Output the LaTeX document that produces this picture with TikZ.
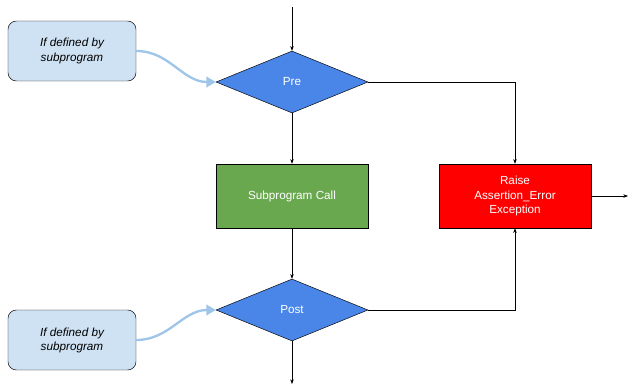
\documentclass[tikz,border=0pt]{standalone}
\usepackage{fontspec}
\setmainfont{Liberation Sans}
\usetikzlibrary{shapes.geometric,arrows.meta}

\definecolor{condblue}{HTML}{4A86E8}
\definecolor{callgreen}{HTML}{6AA84F}
\definecolor{notefill}{HTML}{CFE2F3}
\definecolor{noteline}{HTML}{9FC5E8}

\tikzset{
  cond/.style={diamond, draw, fill=condblue, text=white, inner sep=0pt,
    minimum width=4.56cm, minimum height=1.86cm, font=\normalsize},
  stepbox/.style={rectangle, draw, text=white, align=center, inner sep=0pt,
    minimum width=4.56cm, minimum height=1.92cm, font=\normalsize},
  note/.style={rectangle, rounded corners=0.25cm, draw, fill=notefill,
    align=center, minimum width=3.84cm, minimum height=1.8cm,
    font=\normalsize\itshape},
  flow/.style={-{Stealth[length=4pt,width=3pt]}, line width=0.5pt},
  hint/.style={-{Triangle[length=8pt,width=9pt]}, line width=2pt, noteline}
}

\begin{document}
\begin{tikzpicture}
    \useasboundingbox (0,0) rectangle (18.84,-11.52);
    \node[cond] (pre) at (8.76, -2.46) {Pre};
    \node[stepbox, fill=callgreen] (call) at (8.76, -5.88) {Subprogram Call};
    \node[cond] (post) at (8.76, -9.30) {Post};
    \node[stepbox, fill=red] (raise) at (15.45, -5.88) {Raise\\Assertion\_Error\\Exception};
    \node[note] (pnote) at (2.16, -1.53) {If defined by\\subprogram};
    \node[note] (qnote) at (2.16, -10.20) {If defined by\\subprogram};
    \coordinate (in) at (8.76, -0.21);
    \coordinate (out) at (8.76, -11.52);
    \coordinate (exc) at (18.84, -5.88);
    % main flow
    \draw[flow] (in) -- (pre);
    \draw[flow] (pre) -- (call);
    \draw[flow] (call) -- (post);
    \draw[flow] (post) -- (out);
    % failed checks
    \draw[flow] (pre.east) -| (raise.north);
    \draw[flow] (post.east) -| (raise.south);
    \draw[flow] (raise.east) -- (exc);
    % notes
    \draw[hint] (pnote.east) to[out=0, in=180] (pre.west);
    \draw[hint] (qnote.east) to[out=0, in=180] (post.west);
\end{tikzpicture}
\end{document}
